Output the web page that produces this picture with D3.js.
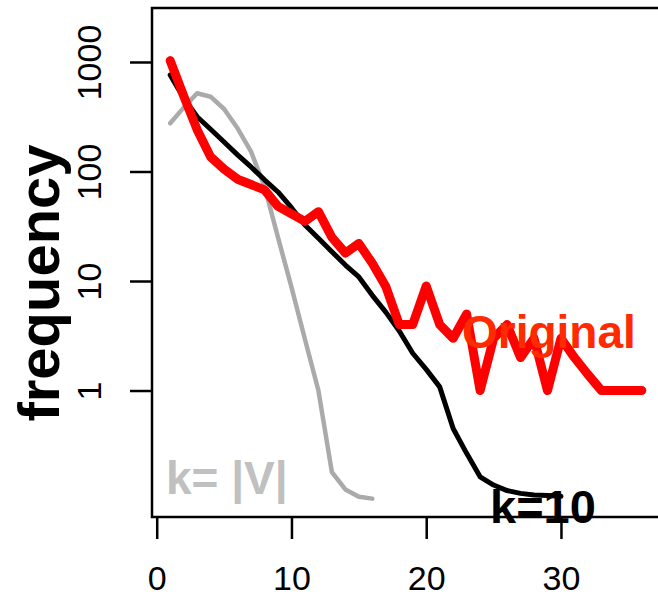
<!DOCTYPE html>
<meta charset="utf-8">

<!-- Load d3.js -->
<script src="https://d3js.org/d3.v7.min.js"></script>

<style>
    body { margin: 0; background: #fff; }
    text { font-family: "Liberation Sans", Arial, Helvetica, sans-serif; }
</style>
<body>
<div id="my_dataviz"></div>
<script>
    // degree values on x (1, 2, 3 ...) for each series
    var origDeg = d3.range(1, 37)
    var origFreq = [1030, 490, 241, 136, 105, 85, 76, 68, 48, 41, 35, 43, 25, 18, 22, 14.5, 8.9, 4, 4, 9,
                    4, 3, 5, 1, 3, 4, 2, 3, 1, 3, 2, 1.4, 1, 1, 1, 1]

    var k10Deg = d3.range(1, 31)
    var k10Freq = [761, 469, 316, 243, 186, 142, 110, 84, 65, 46.7, 32.5, 24.6, 18.5, 14, 10.9, 7.4, 5.2, 3.5, 2.19, 1.56,
                   1.08, 0.45, 0.267, 0.163, 0.137, 0.122, 0.115, 0.111, 0.11, 0.108]

    var kVDeg = d3.range(1, 17)
    var kVFreq = [276, 383, 518, 482, 372, 248, 152, 73, 25, 8.8, 2.94, 1.0, 0.18, 0.125, 0.107, 0.103]

    var xTicks = [0, 10, 20, 30]
    var yTicks = [1, 10, 100, 1000]

    // plot box (right edge runs just off the page)
    var box = {left: 152, top: 8, right: 660, bottom: 517}

    var svg = d3.select("#my_dataviz")
        .append("svg")
        .attr("width", 658)
        .attr("height", 597)

    var x = d3.scaleLinear()
        .domain([-0.35, 37.35])
        .range([box.left, box.right])

    var y = d3.scaleLog()
        .domain([Math.pow(10, -1.155), Math.pow(10, 3.493)])
        .range([box.bottom, box.top])

    // x axis: ticks hang from the box, labels below
    var gx = svg.append("g")
        .attr("transform", "translate(0," + box.bottom + ")")
        .call(d3.axisBottom(x).tickValues(xTicks).tickSize(22).tickSizeOuter(0))
    gx.select(".domain").remove()
    gx.selectAll("line").attr("stroke", "#000").attr("stroke-width", 2.5)
    gx.selectAll("text")
        .attr("y", 73)
        .attr("dy", 0)
        .style("font-size", "34px")
        .attr("fill", "#000")

    // y axis: labels parallel to the axis
    var gy = svg.append("g")
        .attr("transform", "translate(" + box.left + ",0)")
        .call(d3.axisLeft(y).tickValues(yTicks).tickFormat(d3.format("d")).tickSize(22).tickSizeOuter(0))
    gy.select(".domain").remove()
    gy.selectAll("line").attr("stroke", "#000").attr("stroke-width", 2.5)
    gy.selectAll("text")
        .attr("x", 0)
        .attr("dy", 0)
        .attr("text-anchor", "middle")
        .attr("transform", "translate(-51,0) rotate(-90)")
        .style("font-size", "34px")
        .attr("fill", "#000")

    // the box
    svg.append("rect")
        .attr("x", box.left)
        .attr("y", box.top)
        .attr("width", box.right - box.left)
        .attr("height", box.bottom - box.top)
        .attr("fill", "none")
        .attr("stroke", "#000")
        .attr("stroke-width", 2.5)

    var line = d3.line()
        .x(function(d) { return x(d[0]) })
        .y(function(d) { return y(d[1]) })

    function addLine(xs, ys, color, width) {
        svg.append("path")
            .datum(d3.zip(xs, ys))
            .attr("d", line)
            .attr("fill", "none")
            .attr("stroke", color)
            .attr("stroke-width", width)
            .attr("stroke-linejoin", "round")
            .attr("stroke-linecap", "round")
    }

    addLine(kVDeg, kVFreq, "#aaaaaa", 4.5)
    addLine(k10Deg, k10Freq, "#000000", 5)
    addLine(origDeg, origFreq, "#ff0000", 9)

    // labels on the curves
    svg.append("text")
        .attr("x", 166)
        .attr("y", 494)
        .style("font-size", "46px")
        .style("font-weight", "bold")
        .attr("fill", "#c0c0c0")
        .text("k= |V|")

    svg.append("text")
        .attr("x", 490)
        .attr("y", 523)
        .style("font-size", "47px")
        .style("font-weight", "bold")
        .attr("fill", "#000")
        .text("k=10")

    svg.append("text")
        .attr("x", 462)
        .attr("y", 348)
        .style("font-size", "46px")
        .style("font-weight", "bold")
        .attr("fill", "#ff2a00")
        .text("Original")

    // y axis title
    svg.append("text")
        .attr("text-anchor", "middle")
        .attr("transform", "translate(59,283) rotate(-90)")
        .style("font-size", "58px")
        .style("font-weight", "bold")
        .attr("fill", "#000")
        .text("frequency")
</script>
</body>
